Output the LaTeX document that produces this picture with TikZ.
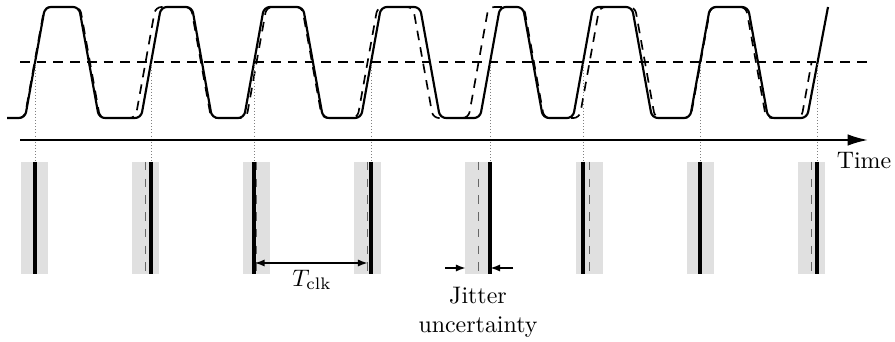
\documentclass[tikz,border=0pt]{standalone}
\usepackage{amsmath, amssymb}
\usepackage{tikz}
\usetikzlibrary{arrows.meta}

\begin{document}
\begin{tikzpicture}[x=0.0147cm,y=-0.0147cm,
	wave/.style={line width=0.9pt, rounded corners=2.5pt},
	ideal/.style={line width=0.7pt, rounded corners=2.5pt, dash pattern=on 4pt off 3pt},
	window/.style={fill=black!12},
	edge/.style={line width=1.3pt},
	nominal/.style={gray!80!black, line width=0.8pt, dash pattern=on 3.5pt off 3.5pt},
	guide/.style={gray, line width=0.3pt, densely dotted},
	dim/.style={line width=0.6pt, {Latex[length=4pt,width=3pt]}-{Latex[length=4pt,width=3pt]}},
	pointer/.style={line width=0.6pt, -{Latex[length=4pt,width=3pt]}}]
	\useasboundingbox (0,0) rectangle (895,342);
	% jitter windows
	\fill[window] (21,162) rectangle (48,274);
	\fill[window] (132,162) rectangle (159,274);
	\fill[window] (243,162) rectangle (270,274);
	\fill[window] (354,162) rectangle (381,274);
	\fill[window] (465,162) rectangle (492,274);
	\fill[window] (576,162) rectangle (603,274);
	\fill[window] (687,162) rectangle (714,274);
	\fill[window] (798,162) rectangle (825,274);
	% threshold
	\draw[line width=0.6pt, dash pattern=on 4pt off 3pt] (20,62) -- (868,62);
	% ideal clock
	\draw[ideal] (20,118) -- (24.5,118) -- (44.5,7) -- (80,7) -- (100,118)
		-- (135.5,118) -- (155.5,7) -- (191,7) -- (211,118)
		-- (246.5,118) -- (266.5,7) -- (302,7) -- (322,118)
		-- (357.5,118) -- (377.5,7) -- (413,7) -- (433,118)
		-- (468.5,118) -- (488.5,7) -- (524,7) -- (544,118)
		-- (579.5,118) -- (599.5,7) -- (635,7) -- (655,118)
		-- (690.5,118) -- (710.5,7) -- (746,7) -- (766,118)
		-- (801.5,118) -- (811.5,62.5);
	% jittered clock
	\draw[wave] (7,118) -- (25,118) -- (45,7) -- (79,7) -- (99,118)
		-- (141,118) -- (161,7) -- (192,7) -- (212,118)
		-- (244,118) -- (264,7) -- (303,7) -- (323,118)
		-- (361,118) -- (381,7) -- (420,7) -- (440,118)
		-- (480,118) -- (500,7) -- (523,7) -- (543,118)
		-- (573,118) -- (593,7) -- (632,7) -- (652,118)
		-- (690,118) -- (710,7) -- (748,7) -- (768,118)
		-- (807,118) -- (828,7);
	% guides from the crossings
	\draw[guide] (35,64) -- (35,162);
	\draw[guide] (151,64) -- (151,162);
	\draw[guide] (254,64) -- (254,162);
	\draw[guide] (371,64) -- (371,162);
	\draw[guide] (490,64) -- (490,162);
	\draw[guide] (583,64) -- (583,162);
	\draw[guide] (700,64) -- (700,162);
	\draw[guide] (817,64) -- (817,162);
	% time axis
	\coordinate (t0) at (20,140);
	\coordinate (t1) at (868,140);
	\draw[line width=0.8pt, -{Latex[length=8.5pt,width=4.8pt]}] (t0) -- (t1);
	\node (time) at (864,161) {Time};
	% nominal edges
	\draw[nominal] (34.5,162) -- (34.5,274);
	\draw[nominal] (145.5,162) -- (145.5,274);
	\draw[nominal] (256.5,162) -- (256.5,274);
	\draw[nominal] (367.5,162) -- (367.5,274);
	\draw[nominal] (478.5,162) -- (478.5,274);
	\draw[nominal] (589.5,162) -- (589.5,274);
	\draw[nominal] (700.5,162) -- (700.5,274);
	\draw[nominal] (811.5,162) -- (811.5,274);
	% actual edges
	\draw[edge] (35,162) -- (35,274);
	\draw[edge] (151,162) -- (151,274);
	\draw[edge] (254,162) -- (254,274);
	\draw[edge] (371,162) -- (371,274);
	\draw[edge] (490,162) -- (490,274);
	\draw[edge] (583,162) -- (583,274);
	\draw[edge] (700,162) -- (700,274);
	\draw[edge] (817,162) -- (817,274);
	% period
	\coordinate (p3) at (255,263);
	\coordinate (p4) at (367.5,263);
	\draw[dim] (p3) -- (p4);
	\node (tclk) at (312,280) {$T_{\mathrm{clk}}$};
	% jitter
	\coordinate (jl) at (445,268);
	\coordinate (jw) at (465.5,268);
	\coordinate (jr) at (513,268);
	\coordinate (je) at (490.5,268);
	\draw[pointer] (jl) -- (jw);
	\draw[pointer] (jr) -- (je);
	\node[align=center] (jitter) at (478,312) {Jitter\\uncertainty};
\end{tikzpicture}
\end{document}
